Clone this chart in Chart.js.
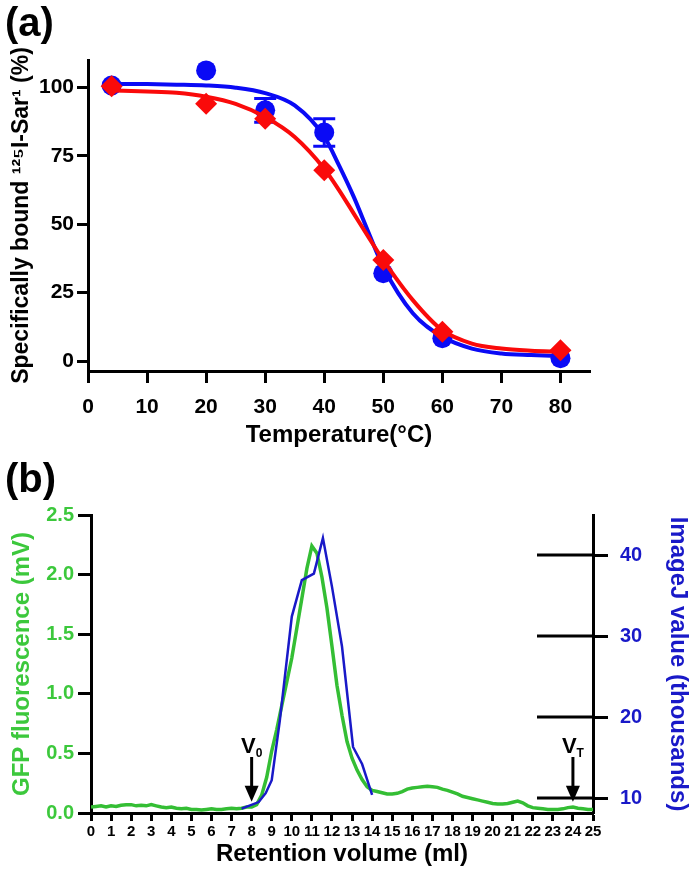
<!DOCTYPE html>
<html>
<head>
<meta charset="utf-8">
<script src="https://cdn.jsdelivr.net/npm/chart.js@4.4.1/dist/chart.umd.min.js"></script>
<style>
  html, body { margin: 0; padding: 0; background: #fff; }
  body { width: 694px; height: 873px; position: relative; overflow: hidden; font-family: 'Liberation Sans', Arial, sans-serif; }
  .panel-label { position: absolute; left: 5px; font-weight: bold; font-size: 40px; line-height: 40px; color: #000; }
  #wrapA { position: absolute; left: 0; top: 0; width: 694px; height: 455px; }
  #wrapB { position: absolute; left: 0; top: 455px; width: 694px; height: 418px; }
</style>
</head>
<body>
<div id="wrapA"><canvas id="chartA" width="694" height="455"></canvas></div>
<div id="wrapB"><canvas id="chartB" width="694" height="418"></canvas></div>
<div class="panel-label" style="top:2px">(a)</div>
<div class="panel-label" style="top:458px">(b)</div>
<script>
// --- panel (a): binding vs temperature ---
const tempPoints = [4, 20, 30, 40, 50, 60, 80];
const wtBound = [100.7, 106.2, 91.6, 83.5, 32.1, 8.4, 1.1];      // blue circles
const wtErr = [0, 0, 4.3, 5.0, 0, 0, 0];
const mutBound = [100.4, 94.0, 88.5, 69.7, 36.9, 10.7, 4.0];     // red diamonds
const fitTemp = [4, 10, 15, 20, 25, 30, 35, 40, 42.5, 45, 47.5, 50, 55, 60, 65, 70, 75, 80];
const wtFit = [101.3, 101.2, 101.0, 100.7, 99.9, 97.9, 93.4, 82.0, 71.5, 60.0, 47.0, 34.4, 17.5, 8.9, 4.6, 2.8, 2.2, 1.8];
const mutFit = [98.9, 98.5, 98.0, 96.6, 94.0, 89.2, 81.9, 70.3, 62.5, 53.9, 45.3, 36.9, 22.3, 11.3, 6.4, 4.6, 3.8, 3.4];
const tempTicks = [0, 10, 20, 30, 40, 50, 60, 70, 80];
const pctTicks = [0, 25, 50, 75, 100];

// --- panel (b): size exclusion trace ---
const gfpVol = [0, 0.25, 0.5, 0.75, 1, 1.25, 1.5, 1.75, 2, 2.25, 2.5, 2.75, 3, 3.25, 3.5, 3.75, 4, 4.25, 4.5, 4.75,
  5, 5.25, 5.5, 5.75, 6, 6.25, 6.5, 6.75, 7, 7.25, 7.5, 7.75, 8, 8.25, 8.5, 8.75, 9, 9.25, 9.5, 9.75,
  10, 10.25, 10.5, 10.75, 11, 11.25, 11.5, 11.75, 12, 12.25, 12.5, 12.75, 13, 13.25, 13.5, 13.75, 14, 14.25, 14.5, 14.75,
  15, 15.25, 15.5, 15.75, 16, 16.25, 16.5, 16.75, 17, 17.25, 17.5, 17.75, 18, 18.25, 18.5, 18.75, 19, 19.25, 19.5, 19.75,
  20, 20.25, 20.5, 20.75, 21, 21.25, 21.5, 21.75, 22, 22.25, 22.5, 22.75, 23, 23.25, 23.5, 23.75, 24, 24.25, 24.5, 24.75, 25];
const gfpMv = [0.05, 0.055, 0.06, 0.05, 0.06, 0.055, 0.065, 0.07, 0.07, 0.06, 0.065, 0.06, 0.07, 0.06, 0.05, 0.045, 0.05, 0.04, 0.035, 0.04,
  0.03, 0.03, 0.025, 0.03, 0.035, 0.03, 0.03, 0.035, 0.04, 0.035, 0.04, 0.05, 0.05, 0.07, 0.15, 0.3, 0.52, 0.7, 0.9, 1.1,
  1.3, 1.55, 1.8, 2.05, 2.24, 2.18, 1.98, 1.72, 1.4, 1.07, 0.82, 0.6, 0.46, 0.36, 0.28, 0.22, 0.19, 0.18, 0.17, 0.16,
  0.16, 0.165, 0.18, 0.2, 0.21, 0.215, 0.22, 0.225, 0.22, 0.215, 0.2, 0.19, 0.175, 0.16, 0.14, 0.13, 0.12, 0.11, 0.1, 0.09,
  0.08, 0.075, 0.075, 0.08, 0.09, 0.1, 0.085, 0.06, 0.045, 0.04, 0.035, 0.03, 0.03, 0.03, 0.035, 0.045, 0.05, 0.04, 0.035, 0.03, 0.03];
const imgVol = [7.5, 8.35, 8.7, 9.0, 9.4, 10.0, 10.5, 11.1, 11.55, 12.0, 12.5, 13.05, 13.5, 14.0];
const imgVal = [8.7, 9.5, 10.6, 12.2, 19.5, 32.4, 36.9, 37.7, 42.1, 36.1, 28.7, 16.3, 14.2, 10.4];
const volTicks = [0, 1, 2, 3, 4, 5, 6, 7, 8, 9, 10, 11, 12, 13, 14, 15, 16, 17, 18, 19, 20, 21, 22, 23, 24, 25];
const gfpTicks = [0, 0.5, 1.0, 1.5, 2.0, 2.5];
const imgTicks = [10, 20, 30, 40];
const voidMarkers = [{ name: 'V', sub: '0', vol: 8 }, { name: 'V', sub: 'T', vol: 24 }];

const FONT = "'Liberation Sans', Arial, sans-serif";
const BLUE = 'rgb(10,10,245)';
const RED = 'rgb(250,10,10)';
const GREEN = 'rgb(52,190,52)';
const GREEN_TXT = 'rgb(60,200,60)';
const DBLUE = 'rgb(25,25,200)';
Chart.defaults.font.family = FONT;
Chart.defaults.color = '#000';

const pts = (xs, ys) => xs.map((v, i) => ({ x: v, y: ys[i] }));
const setTicks = arr => scale => { scale.ticks = arr.map(v => ({ value: v })); };
const axisGrid = len => ({ drawOnChartArea: false, drawTicks: true, tickLength: len, tickWidth: 3, tickColor: '#000' });
const axisBorder = { display: true, color: '#000', width: 3 };

// error bars under the markers
const errorBars = {
  id: 'errorBars',
  beforeDatasetsDraw(chart) {
    const { ctx, scales: { x, y } } = chart;
    ctx.save();
    ctx.strokeStyle = BLUE;
    ctx.lineWidth = 3;
    tempPoints.forEach((t, i) => {
      if (!wtErr[i]) return;
      const px = x.getPixelForValue(t);
      const top = y.getPixelForValue(wtBound[i] + wtErr[i]);
      const bot = y.getPixelForValue(wtBound[i] - wtErr[i]);
      ctx.beginPath();
      ctx.moveTo(px, top); ctx.lineTo(px, bot);
      ctx.moveTo(px - 11, top); ctx.lineTo(px + 11, top);
      ctx.moveTo(px - 11, bot); ctx.lineTo(px + 11, bot);
      ctx.stroke();
    });
    ctx.restore();
  }
};

new Chart(document.getElementById('chartA'), {
  type: 'line',
  data: {
    datasets: [
      { data: pts(tempPoints, mutBound), showLine: false, pointStyle: 'rectRot', pointRadius: 11,
        backgroundColor: RED, borderColor: RED, borderWidth: 0 },
      { data: pts(fitTemp, mutFit), borderColor: RED, borderWidth: 4, pointRadius: 0, cubicInterpolationMode: 'monotone' },
      { data: pts(tempPoints, wtBound), showLine: false, pointStyle: 'circle', pointRadius: 10,
        backgroundColor: BLUE, borderColor: BLUE, borderWidth: 0 },
      { data: pts(fitTemp, wtFit), borderColor: BLUE, borderWidth: 4, pointRadius: 0, cubicInterpolationMode: 'monotone' }
    ]
  },
  options: {
    responsive: false, animation: false, events: [],
    layout: { padding: { top: 60, right: 104, left: 0, bottom: 0 } },
    plugins: { legend: { display: false }, tooltip: { enabled: false } },
    scales: {
      x: {
        type: 'linear', min: 0, max: 85,
        afterBuildTicks: setTicks(tempTicks),
        afterFit: s => { s.height = 84; },
        grid: axisGrid(12), border: axisBorder,
        ticks: { color: '#000', font: { size: 21, weight: 'bold' }, padding: 12, maxRotation: 0, autoSkip: false },
        title: { display: true, text: 'Temperature(°C)', color: '#000', font: { size: 24, weight: 'bold' }, padding: { bottom: 5 } }
      },
      y: {
        min: -3.6, max: 110,
        afterBuildTicks: setTicks(pctTicks),
        afterFit: s => { s.width = 88; },
        grid: axisGrid(11), border: axisBorder,
        ticks: { color: '#000', font: { size: 21, weight: 'bold' }, padding: 3 },
        title: { display: true, text: 'Specifically bound ¹²⁵I-Sar¹ (%)', color: '#000', font: { size: 23, weight: 'bold' }, padding: { top: 8 } }
      }
    }
  },
  plugins: [errorBars]
});

// V0 / VT arrows
const voidArrows = {
  id: 'voidArrows',
  afterDatasetsDraw(chart) {
    const { ctx, scales: { x, y } } = chart;
    ctx.save();
    ctx.fillStyle = '#000';
    ctx.strokeStyle = '#000';
    ctx.lineWidth = 3;
    voidMarkers.forEach(m => {
      const px = x.getPixelForValue(m.vol);
      const yTop = y.getPixelForValue(0.47);
      const yTip = y.getPixelForValue(0.095);
      ctx.beginPath();
      ctx.moveTo(px, yTop); ctx.lineTo(px, yTip - 12);
      ctx.stroke();
      ctx.beginPath();
      ctx.moveTo(px - 7, yTip - 16); ctx.lineTo(px + 7, yTip - 16); ctx.lineTo(px, yTip);
      ctx.closePath();
      ctx.fill();
      ctx.textAlign = 'left';
      ctx.textBaseline = 'alphabetic';
      ctx.font = 'bold 22px ' + FONT;
      const wV = ctx.measureText(m.name).width;
      ctx.font = 'bold 12px ' + FONT;
      const wS = ctx.measureText(m.sub).width;
      const start = px - (wV + wS) / 2;
      ctx.font = 'bold 22px ' + FONT;
      ctx.fillText(m.name, start, yTop - 4);
      ctx.font = 'bold 12px ' + FONT;
      ctx.fillText(m.sub, start + wV, yTop);
    });
    ctx.restore();
  }
};

// long inner part of the right-hand ticks
const innerTicks = {
  id: 'innerTicks',
  afterDraw(chart) {
    const s = chart.scales.y1;
    const { ctx, chartArea } = chart;
    ctx.save();
    ctx.strokeStyle = '#000';
    ctx.lineWidth = 3;
    s.ticks.forEach(t => {
      const py = s.getPixelForValue(t.value);
      ctx.beginPath();
      ctx.moveTo(chartArea.right - 56, py);
      ctx.lineTo(chartArea.right, py);
      ctx.stroke();
    });
    ctx.restore();
  }
};

new Chart(document.getElementById('chartB'), {
  type: 'line',
  data: {
    datasets: [
      { data: pts(imgVol, imgVal), yAxisID: 'y1', borderColor: DBLUE, borderWidth: 2.5, pointRadius: 0, tension: 0 },
      { data: pts(gfpVol, gfpMv), yAxisID: 'y', borderColor: GREEN, borderWidth: 3.5, pointRadius: 0, tension: 0 }
    ]
  },
  options: {
    responsive: false, animation: false, events: [],
    layout: { padding: { top: 60, right: 0, left: 0, bottom: 0 } },
    plugins: { legend: { display: false }, tooltip: { enabled: false } },
    scales: {
      x: {
        type: 'linear', min: 0, max: 25,
        afterBuildTicks: setTicks(volTicks),
        afterFit: s => { s.height = 60; },
        grid: axisGrid(8), border: axisBorder,
        ticks: { color: '#000', font: { size: 15, weight: 'bold' }, padding: 2, maxRotation: 0, autoSkip: false },
        title: { display: true, text: 'Retention volume (ml)', color: '#000', font: { size: 24, weight: 'bold' }, padding: { bottom: 4 } }
      },
      y: {
        position: 'left', min: 0, max: 2.5,
        afterBuildTicks: setTicks(gfpTicks),
        afterFit: s => { s.width = 91; },
        grid: axisGrid(13), border: axisBorder,
        ticks: { color: GREEN_TXT, font: { size: 20, weight: 'bold' }, padding: 4, callback: v => v.toFixed(1) },
        title: { display: true, text: 'GFP fluorescence (mV)', color: GREEN_TXT, font: { size: 24, weight: 'bold' }, padding: { top: 8 } }
      },
      y1: {
        position: 'right', min: 8.15, max: 44.94,
        afterBuildTicks: setTicks(imgTicks),
        afterFit: s => { s.width = 101; },
        grid: axisGrid(15), border: axisBorder,
        ticks: { color: DBLUE, font: { size: 20, weight: 'bold' }, padding: 12 },
        title: { display: true, text: 'ImageJ value (thousands)', color: DBLUE, font: { size: 24, weight: 'bold' }, padding: { top: 2 } }
      }
    }
  },
  plugins: [voidArrows, innerTicks]
});
</script>
</body>
</html>
